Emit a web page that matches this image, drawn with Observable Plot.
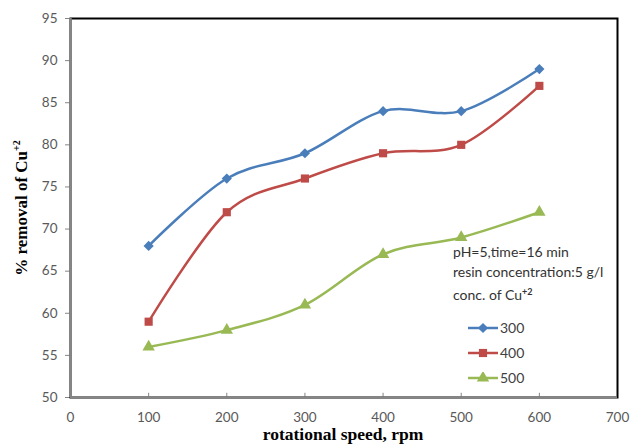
<!DOCTYPE html>
<html>
<head>
<meta charset="utf-8">
<script src="https://cdn.jsdelivr.net/npm/d3@7"></script>
<script src="https://cdn.jsdelivr.net/npm/@observablehq/plot@0.6"></script>
<style>
  html, body { margin: 0; padding: 0; background: white; }
  #wrap { position: relative; width: 630px; height: 444px; }
  .note { position: absolute; left: 453px; top: 242px; font-family: Lato, "Open Sans", sans-serif; font-size: 14px; line-height: 20px; color: #333; white-space: nowrap; }
  .note sup { font-size: 9px; font-weight: bold; vertical-align: 5px; }
  .legend { position: absolute; left: 468px; top: 315px; font-family: Lato, "Open Sans", sans-serif; font-size: 14px; color: #404040; }
  .legend .item { display: flex; align-items: center; height: 25px; }
  .legend svg { margin-right: 2px; }
</style>
</head>
<body>
<div id="wrap"></div>
<script>
const xValues = [100, 200, 300, 400, 500, 600];
const s300 = [68, 76, 79, 84, 84, 89];
const s400 = [59, 72, 76, 79, 80, 87];
const s500 = [56, 58, 61, 67, 69, 72];
const seriesNames = ["300", "400", "500"];
const seriesColors = ["#4a7ebb", "#be4b48", "#98b954"];
const seriesSymbols = ["diamond2", "square", "triangle"];
const xTicks = [0, 100, 200, 300, 400, 500, 600, 700];
const yTicks = [50, 55, 60, 65, 70, 75, 80, 85, 90, 95];

const seriesValues = [s300, s400, s500];
const data = [];
seriesNames.forEach((name, i) => {
  xValues.forEach((x, j) => data.push({series: name, x, y: seriesValues[i][j]}));
});

const chart = Plot.plot({
  width: 630,
  height: 444,
  marginLeft: 70,
  marginRight: 13,
  marginTop: 18,
  marginBottom: 47,
  style: {fontFamily: "Lato, 'Open Sans', sans-serif", fontSize: "13.5px", color: "#595959", background: "white", overflow: "visible"},
  x: {domain: [0, 700]},
  y: {domain: [50, 95]},
  color: {domain: seriesNames, range: seriesColors},
  symbol: {domain: seriesNames, range: seriesSymbols},
  marks: [
    Plot.axisX({ticks: xTicks, tickSize: 0, tickPadding: 15, label: null, fill: "#595959"}),
    Plot.axisY({ticks: yTicks, tickSize: 5, tickPadding: 8, label: null, stroke: "#868686", fill: "#595959"}),
    Plot.ruleX(xTicks.slice(1, -1), {y1: 50, y2: 50.5, stroke: "#868686"}),
    Plot.frame({stroke: "black", strokeWidth: 2}),
    Plot.ruleY([50], {stroke: "#868686", strokeWidth: 2.5}),
    Plot.ruleX([0], {stroke: "#868686", strokeWidth: 2.5}),
    Plot.line(data, {x: "x", y: "y", z: "series", stroke: "series", curve: "cardinal", tension: 0, strokeWidth: 2.5}),
    Plot.dot(data, {x: "x", y: "y", symbol: "series", fill: "series", stroke: "none", r: 4.6})
  ]
});

const svg = d3.select(chart);
// y axis label
const yl = svg.append("text")
  .attr("transform", "translate(27,208) rotate(-90)")
  .attr("text-anchor", "middle")
  .style("font-family", "'Liberation Serif', 'Times New Roman', serif")
  .style("font-weight", "bold")
  .style("font-size", "17px")
  .attr("fill", "black");
yl.append("tspan").text("% removal of Cu");
yl.append("tspan").attr("dy", -7).style("font-size", "10px").text("+2");
// x axis label
svg.append("text")
  .attr("x", 343).attr("y", 440)
  .attr("text-anchor", "middle")
  .style("font-family", "'Liberation Serif', 'Times New Roman', serif")
  .style("font-weight", "bold")
  .style("font-size", "17.5px")
  .attr("fill", "black")
  .text("rotational speed, rpm");

const wrap = document.getElementById("wrap");
wrap.appendChild(chart);

const note = document.createElement("div");
note.className = "note";
note.innerHTML = "pH=5,time=16 min<br>resin concentration:5 g/l<br>conc. of Cu<sup>+2</sup>";
wrap.appendChild(note);

const legend = document.createElement("div");
legend.className = "legend";
seriesNames.forEach((name, i) => {
  const item = document.createElement("div");
  item.className = "item";
  const s = d3.create("svg").attr("width", 30).attr("height", 12);
  s.append("line").attr("x1", 0).attr("x2", 30).attr("y1", 6).attr("y2", 6)
    .attr("stroke", seriesColors[i]).attr("stroke-width", 2.5);
  const sym = {diamond2: d3.symbolDiamond2, square: d3.symbolSquare, triangle: d3.symbolTriangle}[seriesSymbols[i]];
  s.append("path").attr("transform", "translate(15,6)")
    .attr("d", d3.symbol(sym, Math.PI * 4.6 * 4.6)())
    .attr("fill", seriesColors[i]);
  item.appendChild(s.node());
  const t = document.createElement("span");
  t.textContent = name;
  item.appendChild(t);
  legend.appendChild(item);
});
wrap.appendChild(legend);
</script>
</body>
</html>
